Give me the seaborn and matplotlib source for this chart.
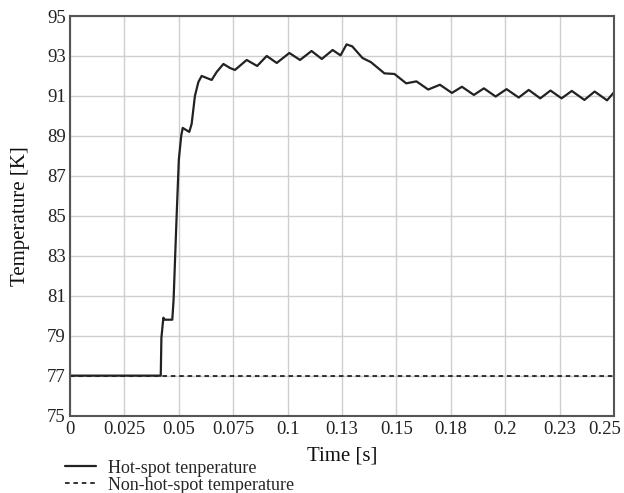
import matplotlib
matplotlib.use("Agg")
import matplotlib.pyplot as plt
import matplotlib.transforms as mtransforms
import seaborn as sns
import pandas as pd

# Hot-spot temperature
hot_t = [0.0, 0.0417, 0.0420, 0.0429, 0.0436, 0.0470, 0.0476, 0.0490, 0.0500, 0.0511,
         0.0518, 0.0548, 0.0559, 0.0574, 0.0590, 0.0605, 0.0628, 0.0651, 0.0674, 0.0705,
         0.0735, 0.0758, 0.0812, 0.0860, 0.0904, 0.0950, 0.1008, 0.1057, 0.1110, 0.1157,
         0.1207, 0.1243, 0.1271, 0.1297, 0.1344, 0.1383, 0.1445, 0.1491, 0.1545, 0.1592,
         0.1646, 0.1700, 0.1755, 0.1801, 0.1856, 0.1902, 0.1956, 0.2006, 0.2062, 0.2108,
         0.2161, 0.2208, 0.2259, 0.2306, 0.2364, 0.2411, 0.2468, 0.2499]
hot_T = [77.0, 77.0, 78.9, 79.9, 79.8, 79.8, 80.8, 85.0, 87.8, 89.0,
         89.4, 89.2, 89.6, 91.0, 91.7, 92.0, 91.9, 91.8, 92.2, 92.6,
         92.4, 92.3, 92.8, 92.5, 93.0, 92.65, 93.15, 92.8, 93.25, 92.85,
         93.3, 93.03, 93.58, 93.48, 92.9, 92.69, 92.13, 92.1, 91.63, 91.73,
         91.32, 91.56, 91.15, 91.46, 91.05, 91.38, 90.97, 91.34, 90.92, 91.30,
         90.88, 91.27, 90.88, 91.25, 90.8, 91.22, 90.78, 91.17]

# Non-hot-spot temperature
cold_t = [0.0, 0.25]
cold_T = [77.0, 77.0]

x_ticks = [0, 0.025, 0.05, 0.075, 0.1, 0.125, 0.15, 0.175, 0.2, 0.225, 0.25]
x_tick_labels = ["0", "0.025", "0.05", "0.075", "0.1", "0.13", "0.15", "0.18", "0.2", "0.23", "0.25"]
y_ticks = [75, 77, 79, 81, 83, 85, 87, 89, 91, 93, 95]

sns.set_theme(style="whitegrid")
plt.rcParams["font.family"] = ["Liberation Serif", "DejaVu Serif"]

df_hot = pd.DataFrame({"t": hot_t, "T": hot_T})
df_cold = pd.DataFrame({"t": cold_t, "T": cold_T})

fig, ax = plt.subplots(figsize=(6.24, 4.93), dpi=100)
fig.subplots_adjust(left=0.1122, right=0.984, top=0.9675, bottom=0.157)

sns.lineplot(data=df_cold, x="t", y="T", ax=ax, color="black", linewidth=1.1,
             linestyle=(0, (3, 2.5)), label="Non-hot-spot temperature")
sns.lineplot(data=df_hot, x="t", y="T", ax=ax, color="#222222", linewidth=1.6,
             label="Hot-spot tenperature")

ax.set_xlim(0, 0.25)
ax.set_ylim(75, 95)
ax.set_xticks(x_ticks)
ax.set_xticklabels(x_tick_labels)
ax.set_yticks(y_ticks)
ax.tick_params(axis="both", labelsize=13.5, length=0, pad=3, colors="#222222")
ax.tick_params(axis="x", pad=4)
ax.grid(True, color="#cfcfcf", linewidth=1.0)
for s in ax.spines.values():
    s.set_color("#555555")
    s.set_linewidth(1.5)
ax.set_xlabel("Time [s]", fontsize=15, labelpad=6, color="#111111")
ax.set_ylabel("Temperature [K]", fontsize=15, labelpad=12, color="#111111")

# shift the last x tick label slightly left, as in the reference
last = ax.get_xticklabels()[-1]
last.set_transform(last.get_transform() + mtransforms.ScaledTranslation(-9 / 100, 0, fig.dpi_scale_trans))

handles, labels = ax.get_legend_handles_labels()
leg = ax.legend(handles[::-1], labels[::-1], loc="upper left",
                bbox_to_anchor=(-0.009, -0.11), frameon=False, fontsize=13,
                handlelength=1.7, handletextpad=0.65, labelspacing=0.0,
                borderpad=0, borderaxespad=0)

fig.savefig("out.png", dpi=100)
